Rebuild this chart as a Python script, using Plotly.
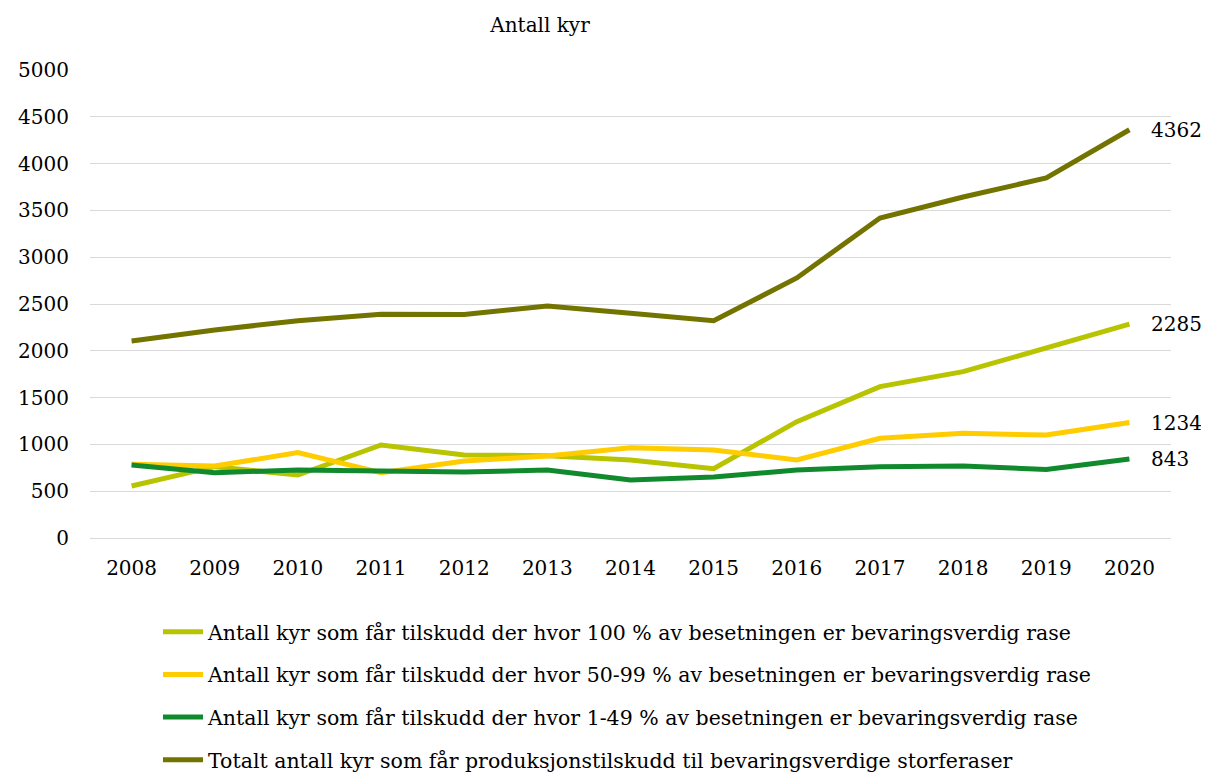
import plotly.graph_objects as go

years = [str(y) for y in range(2008, 2021)]
full_100 = [556, 762, 673, 994, 887, 880, 833, 740, 1243, 1617, 1777, 2026, 2285]
part_50_99 = [787, 769, 912, 698, 822, 876, 965, 940, 833, 1065, 1118, 1100, 1234]
part_1_49 = [780, 698, 726, 716, 705, 726, 620, 652, 726, 762, 769, 733, 843]
total = [2105, 2222, 2322, 2390, 2388, 2479, 2400, 2322, 2778, 3419, 3643, 3846, 4362]

names = [
    "Antall kyr som får tilskudd der hvor 100 % av besetningen er bevaringsverdig rase",
    "Antall kyr som får tilskudd der hvor 50-99 % av besetningen er bevaringsverdig rase",
    "Antall kyr som får tilskudd der hvor 1-49 % av besetningen er bevaringsverdig rase",
    "Totalt antall kyr som får produksjonstilskudd til bevaringsverdige storferaser",
]
series = [full_100, part_50_99, part_1_49, total]
colors = ["#B9C400", "#FFCC00", "#118A2E", "#737300"]

FONT = "DejaVu Serif"
W, H = 1201, 768
L, R, T, B = 82, 38, 62, 238

fig = go.Figure()
for i, (nm, vals, col) in enumerate(zip(names, series, colors)):
    fig.add_trace(go.Scatter(
        x=years, y=vals, name=nm, mode="lines",
        line=dict(color=col, width=5),
        legendgroup=f"g{i}",
    ))
    fig.add_annotation(
        x=len(years) - 1, y=vals[-1], xref="x", yref="y",
        text=str(vals[-1]), showarrow=False, xanchor="left", yanchor="middle",
        xshift=20, font=dict(family=FONT, size=20, color="#000000"),
    )

plot_w = W - L - R
fig.update_layout(
    width=W, height=H,
    paper_bgcolor="white", plot_bgcolor="white",
    margin=dict(l=L, r=R, t=T, b=B, autoexpand=False),
    font=dict(family=FONT, size=20, color="#000000"),
    title=dict(text="Antall kyr", x=532 / W, xanchor="center", xref="container",
               y=1 - 17 / H, yanchor="middle", yref="container",
               font=dict(family=FONT, size=20, color="#000000")),
    showlegend=True,
    legend=dict(
        orientation="v", x=(150 - L) / plot_w, xanchor="left", y=-0.158, yanchor="top",
        font=dict(family=FONT, size=20.5, color="#000000"),
        tracegroupgap=13, itemwidth=40, bgcolor="rgba(0,0,0,0)",
    ),
    xaxis=dict(
        type="category", range=[-0.5, 12.5], showgrid=False, showline=False,
        ticks="", tickfont=dict(family=FONT, size=20), zeroline=False,
        ticklabelstandoff=16,
    ),
    yaxis=dict(
        range=[0, 5000], dtick=500, showgrid=True, gridcolor="#D9D9D9",
        gridwidth=1, zeroline=True, zerolinecolor="#D9D9D9", zerolinewidth=1,
        showline=False, ticks="", tickfont=dict(family=FONT, size=20),
        ticklabelstandoff=20,
    ),
)

fig.write_html("out.html")
